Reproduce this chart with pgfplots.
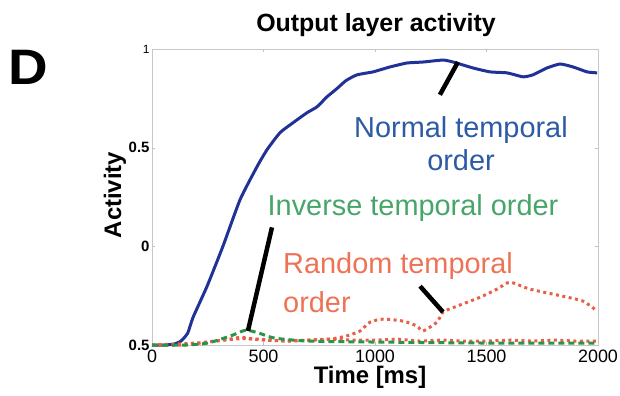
\documentclass[border=0pt]{standalone}
\usepackage{pgfplots}
\pgfplotsset{compat=1.18}
\usepackage{fontspec}
\setmainfont{Liberation Sans}
\definecolor{bluec}{RGB}{32,50,150}
\definecolor{bluet}{RGB}{45,90,165}
\definecolor{greenc}{RGB}{40,150,70}
\definecolor{greent}{RGB}{70,165,105}
\definecolor{redc}{RGB}{232,95,70}
\definecolor{redt}{RGB}{238,115,85}
\begin{document}
\begin{tikzpicture}[x=1bp,y=1bp]
\path[use as bounding box] (0,0) rectangle (620,395);
\begin{axis}[
  at={(152bp,50bp)}, anchor=south west,
  scale only axis, width=446bp, height=296bp,
  xmin=0, xmax=2000, ymin=-0.5, ymax=1,
  axis line style={draw=black!22, line width=0.8bp},
  tick style={draw=black!25},
  major tick length=3bp,
  xtick={0,500,1000,1500,2000},
  ytick={-0.5,0,0.5,1},
  yticklabels={\textbf{0.5},\textbf{0},\textbf{0.5},{\fontsize{12}{12}\selectfont 1}},
  /pgf/number format/assume math mode=true,
  /pgf/number format/set thousands separator={},
  xticklabel style={font=\fontsize{18}{18}\selectfont, yshift=-1bp},
  yticklabel style={font=\fontsize{15}{15}\selectfont, xshift=1bp},
  clip=false,
]
\addplot[bluec, line width=3bp, smooth, tension=0.3] coordinates {
(0,-0.5) (60,-0.5) (100,-0.495) (130,-0.48) (160,-0.44) (184,-0.36)
(247,-0.202) (318,0.0) (395,0.237) (471,0.404) (516,0.490) (574,0.576)
(632,0.626) (695,0.677) (740,0.707) (785,0.758) (830,0.800) (870,0.840)
(919,0.869) (991,0.884) (1067,0.909) (1143,0.929) (1215,0.934) (1305,0.944)
(1350,0.934) (1439,0.904) (1516,0.884) (1592,0.879) (1664,0.859) (1708,0.869)
(1771,0.904) (1830,0.924) (1888,0.909) (1951,0.884) (1996,0.879)
};
\addplot[redc, line width=3bp, dash pattern=on 3bp off 3.5bp] coordinates {
(0,-0.5) (150,-0.5) (250,-0.485) (350,-0.47) (400,-0.46) (450,-0.47)
(500,-0.475) (600,-0.48) (700,-0.475) (800,-0.47) (900,-0.475) (1000,-0.475)
(1100,-0.47) (1200,-0.48) (1300,-0.475) (1400,-0.48) (1500,-0.48) (1600,-0.475)
(1700,-0.48) (1800,-0.475) (1900,-0.48) (2000,-0.48)
};
\addplot[redc, line width=3bp, dash pattern=on 3bp off 3.5bp, smooth, tension=0.4] coordinates {
(0,-0.5) (200,-0.49) (300,-0.478) (400,-0.468) (500,-0.472) (600,-0.48)
(700,-0.476) (800,-0.47) (870,-0.455) (933,-0.429) (978,-0.384) (1036,-0.369)
(1126,-0.379) (1188,-0.404) (1215,-0.429) (1278,-0.384) (1305,-0.333)
(1368,-0.303) (1471,-0.258) (1547,-0.217) (1605,-0.182) (1695,-0.217)
(1843,-0.253) (1933,-0.278) (1996,-0.328)
};
\addplot[greenc, line width=3bp, dash pattern=on 6bp off 4bp, smooth, tension=0.4] coordinates {
(0,-0.5) (150,-0.5) (250,-0.49) (350,-0.455) (420,-0.425) (480,-0.44)
(550,-0.465) (700,-0.48) (1000,-0.485) (1500,-0.49) (2000,-0.49)
};
\draw[black, line width=4.5bp] (axis cs:1291,0.768) -- (axis cs:1372,0.934);
\draw[black, line width=4.5bp] (axis cs:538,0.096) -- (axis cs:430,-0.429);
\draw[black, line width=4.5bp] (axis cs:1202,-0.202) -- (axis cs:1305,-0.333);
\end{axis}
\node[font=\fontsize{25}{25}\selectfont\bfseries] at (376,370) {Output layer activity};
\node[font=\fontsize{50}{50}\selectfont\bfseries, xscale=1.1] at (28,328) {D};
\node[font=\fontsize{24}{24}\selectfont\bfseries, rotate=90] at (115,200) {Activity};
\node[font=\fontsize{24}{24}\selectfont\bfseries] at (370,18) {Time [ms]};
\node[font=\fontsize{29}{33}\selectfont, text=bluet, align=center] at (461,251) {Normal temporal\\order};
\node[font=\fontsize{29}{33}\selectfont, text=greent] at (413,187) {Inverse temporal order};
\node[font=\fontsize{29}{33}\selectfont, text=redt, anchor=west, inner sep=0] at (283,129) {Random temporal};
\node[font=\fontsize{29}{33}\selectfont, text=redt, anchor=west, inner sep=0] at (283,93) {order};
\end{tikzpicture}
\end{document}
